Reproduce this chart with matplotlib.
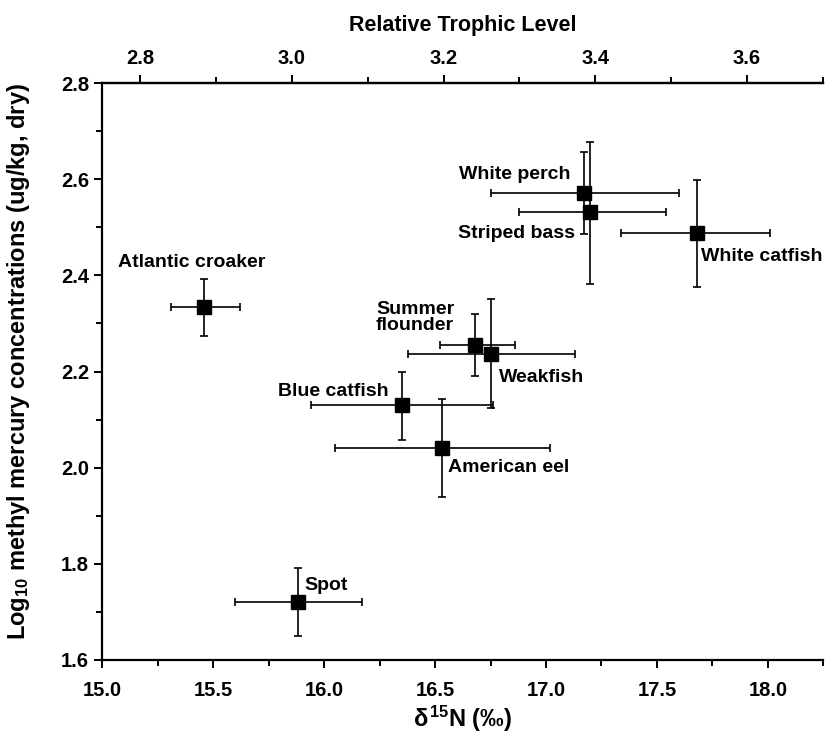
import numpy as np
import matplotlib
matplotlib.use("Agg")
import matplotlib.pyplot as plt
from matplotlib.ticker import MultipleLocator, FixedLocator, FormatStrFormatter

plt.rcParams['font.family'] = ['Liberation Sans', 'DejaVu Sans']
plt.rcParams['font.weight'] = 'bold'
plt.rcParams['mathtext.fontset'] = 'custom'
plt.rcParams['mathtext.rm'] = 'Liberation Sans:bold'
plt.rcParams['mathtext.it'] = 'Liberation Sans:bold'
plt.rcParams['mathtext.bf'] = 'Liberation Sans:bold'

# species, d15N mean and range, log10 MeHg mean and range
species = ['Atlantic croaker', 'Spot', 'Blue catfish', 'American eel',
           'Summer flounder', 'Weakfish', 'White perch', 'Striped bass',
           'White catfish']
d15n = np.array([15.46, 15.88, 16.35, 16.53, 16.68, 16.75, 17.17, 17.20, 17.68])
d15n_lo = np.array([15.31, 15.60, 15.94, 16.05, 16.52, 16.38, 16.75, 16.88, 17.34])
d15n_hi = np.array([15.62, 16.17, 16.76, 17.02, 16.86, 17.13, 17.60, 17.54, 18.01])
hg = np.array([2.335, 1.72, 2.13, 2.04, 2.255, 2.237, 2.572, 2.532, 2.488])
hg_lo = np.array([2.273, 1.65, 2.058, 1.938, 2.19, 2.125, 2.487, 2.382, 2.376])
hg_hi = np.array([2.393, 1.79, 2.198, 2.143, 2.32, 2.35, 2.656, 2.678, 2.598])

# label text, anchor point and alignment
labels = ['Atlantic croaker', 'Spot', 'Blue catfish', 'American eel',
          'Summer\nflounder', 'Weakfish', 'White perch', 'Striped bass',
          'White catfish']
label_x = [15.07, 15.91, 15.79, 16.56, 16.41, 16.79, 17.11, 17.13, 17.70]
label_y = [2.427, 1.755, 2.158, 2.0, 2.313, 2.188, 2.61, 2.487, 2.44]
label_ha = ['left', 'left', 'left', 'left', 'center', 'left', 'right', 'right', 'left']

top_ticks = [2.8, 3.0, 3.2, 3.4, 3.6]
top_minor = [2.8, 2.9, 3.0, 3.1, 3.2, 3.3, 3.4, 3.5, 3.6, 3.7]

fig = plt.figure(figsize=(8.25, 7.43), dpi=100)
ax = fig.add_axes([0.124, 0.112, 0.874, 0.776])

ax.errorbar(d15n, hg,
            xerr=[d15n - d15n_lo, d15n_hi - d15n],
            yerr=[hg - hg_lo, hg_hi - hg],
            fmt='s', color='black', ms=10, elinewidth=1.2,
            capsize=3, capthick=1.2, zorder=3)

for t, x, y, ha in zip(labels, label_x, label_y, label_ha):
    ax.text(x, y, t, ha=ha, va='center', fontsize=14, fontweight='bold',
            linespacing=0.95)

ax.set_xlim(15.0, 18.25)
ax.set_ylim(1.6, 2.8)
ax.xaxis.set_major_locator(MultipleLocator(0.5))
ax.xaxis.set_minor_locator(MultipleLocator(0.25))
ax.yaxis.set_major_locator(MultipleLocator(0.2))
ax.yaxis.set_minor_locator(MultipleLocator(0.1))
ax.xaxis.set_major_formatter(FormatStrFormatter('%.1f'))
ax.yaxis.set_major_formatter(FormatStrFormatter('%.1f'))

ax.spines['right'].set_visible(False)
for s in ['left', 'bottom', 'top']:
    ax.spines[s].set_linewidth(1.6)
ax.tick_params(which='both', direction='out', width=1.4, labelsize=14.5)
ax.tick_params(which='major', length=6)
ax.tick_params(which='minor', length=4)
ax.tick_params(axis='x', which='major', pad=9)

ax.set_xlabel(r'$\delta^{15}$N (‰)', fontsize=17, fontweight='bold', labelpad=3)
ax.set_ylabel(r'Log$_{10}$ methyl mercury concentrations (ug/kg, dry)',
              fontsize=17, fontweight='bold', labelpad=13)
ax.yaxis.set_label_coords(-0.097, 0.517)


def to_tl(x):
    return 2.8 + (x - 15.17) / 3.42


def from_tl(t):
    return 15.17 + (t - 2.8) * 3.42


top = ax.secondary_xaxis('top', functions=(to_tl, from_tl))
top.xaxis.set_major_locator(FixedLocator(top_ticks))
top.xaxis.set_minor_locator(FixedLocator(top_minor))
top.xaxis.set_major_formatter(FormatStrFormatter('%.1f'))
top.spines['top'].set_linewidth(1.6)
top.tick_params(which='both', direction='out', width=1.4, labelsize=14.5)
top.tick_params(which='major', length=6, pad=5)
top.tick_params(which='minor', length=4)
top.set_xlabel('Relative Trophic Level', fontsize=15.5, fontweight='bold', labelpad=13)

fig.savefig('out.png', dpi=100)
